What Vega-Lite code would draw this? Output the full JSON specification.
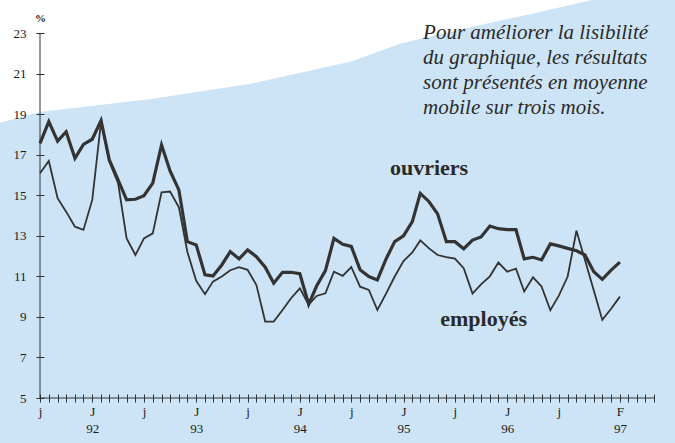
{
  "$schema": "https://vega.github.io/schema/vega-lite/v6.json",
  "width": 614,
  "height": 365,
  "autosize": "none",
  "padding": {"left": 40, "top": 33, "right": 21, "bottom": 45},
  "background": "#cde4f6",
  "config": {"view": {"stroke": null}, "font": "Liberation Serif"},
  "datasets": {
    "bg": [
      {"d": "1990/12/01", "lo": 18.3, "hi": 27},
      {"d": "1991/07/01", "lo": 19.1, "hi": 27},
      {"d": "1992/07/25", "lo": 19.75, "hi": 27},
      {"d": "1993/07/12", "lo": 20.5, "hi": 27},
      {"d": "1994/07/01", "lo": 21.6, "hi": 27},
      {"d": "1994/12/25", "lo": 22.5, "hi": 27},
      {"d": "1995/08/28", "lo": 23.3, "hi": 27},
      {"d": "1996/03/25", "lo": 23.94, "hi": 27},
      {"d": "1996/10/25", "lo": 24.63, "hi": 27},
      {"d": "1997/09/01", "lo": 25.6, "hi": 27}
    ],
    "series": [
      {"d": "1991/07/01", "ouvriers": 17.56, "employes": 16.08},
      {"d": "1991/08/01", "ouvriers": 18.63, "employes": 16.69},
      {"d": "1991/09/01", "ouvriers": 17.67, "employes": 14.85},
      {"d": "1991/10/01", "ouvriers": 18.13, "employes": 14.19},
      {"d": "1991/11/01", "ouvriers": 16.82, "employes": 13.45},
      {"d": "1991/12/01", "ouvriers": 17.51, "employes": 13.29},
      {"d": "1992/01/01", "ouvriers": 17.76, "employes": 14.77},
      {"d": "1992/02/01", "ouvriers": 18.68, "employes": 18.63},
      {"d": "1992/03/01", "ouvriers": 16.74, "employes": 16.66},
      {"d": "1992/04/01", "ouvriers": 15.75, "employes": 15.6},
      {"d": "1992/05/01", "ouvriers": 14.77, "employes": 12.87},
      {"d": "1992/06/01", "ouvriers": 14.8, "employes": 12.05},
      {"d": "1992/07/01", "ouvriers": 14.98, "employes": 12.87},
      {"d": "1992/08/01", "ouvriers": 15.6, "employes": 13.12},
      {"d": "1992/09/01", "ouvriers": 17.48, "employes": 15.14},
      {"d": "1992/10/01", "ouvriers": 16.2, "employes": 15.18},
      {"d": "1992/11/01", "ouvriers": 15.26, "employes": 14.4},
      {"d": "1992/12/01", "ouvriers": 12.71, "employes": 12.2},
      {"d": "1993/01/01", "ouvriers": 12.55, "employes": 10.78},
      {"d": "1993/02/01", "ouvriers": 11.07, "employes": 10.12},
      {"d": "1993/03/01", "ouvriers": 11.02, "employes": 10.74},
      {"d": "1993/04/01", "ouvriers": 11.56, "employes": 10.99},
      {"d": "1993/05/01", "ouvriers": 12.22, "employes": 11.3},
      {"d": "1993/06/01", "ouvriers": 11.86, "employes": 11.45},
      {"d": "1993/07/01", "ouvriers": 12.3, "employes": 11.32},
      {"d": "1993/08/01", "ouvriers": 11.97, "employes": 10.57},
      {"d": "1993/09/01", "ouvriers": 11.45, "employes": 8.77},
      {"d": "1993/10/01", "ouvriers": 10.66, "employes": 8.77},
      {"d": "1993/11/01", "ouvriers": 11.2, "employes": 9.34},
      {"d": "1993/12/01", "ouvriers": 11.2, "employes": 9.92},
      {"d": "1994/01/01", "ouvriers": 11.13, "employes": 10.41},
      {"d": "1994/02/01", "ouvriers": 9.62, "employes": 9.6},
      {"d": "1994/03/01", "ouvriers": 10.52, "employes": 10.03},
      {"d": "1994/04/01", "ouvriers": 11.28, "employes": 10.16},
      {"d": "1994/05/01", "ouvriers": 12.87, "employes": 11.23},
      {"d": "1994/06/01", "ouvriers": 12.58, "employes": 11.02},
      {"d": "1994/07/01", "ouvriers": 12.48, "employes": 11.46},
      {"d": "1994/08/01", "ouvriers": 11.33, "employes": 10.49},
      {"d": "1994/09/01", "ouvriers": 10.99, "employes": 10.33},
      {"d": "1994/10/01", "ouvriers": 10.82, "employes": 9.34},
      {"d": "1994/11/01", "ouvriers": 11.87, "employes": 10.16},
      {"d": "1994/12/01", "ouvriers": 12.71, "employes": 10.99},
      {"d": "1995/01/01", "ouvriers": 13.0, "employes": 11.75},
      {"d": "1995/02/01", "ouvriers": 13.7, "employes": 12.18},
      {"d": "1995/03/01", "ouvriers": 15.09, "employes": 12.77},
      {"d": "1995/04/01", "ouvriers": 14.68, "employes": 12.38},
      {"d": "1995/05/01", "ouvriers": 14.08, "employes": 12.05},
      {"d": "1995/06/01", "ouvriers": 12.71, "employes": 11.95},
      {"d": "1995/07/01", "ouvriers": 12.71, "employes": 11.87},
      {"d": "1995/08/01", "ouvriers": 12.36, "employes": 11.4},
      {"d": "1995/09/01", "ouvriers": 12.79, "employes": 10.15},
      {"d": "1995/10/01", "ouvriers": 12.94, "employes": 10.6},
      {"d": "1995/11/01", "ouvriers": 13.48, "employes": 11.0},
      {"d": "1995/12/01", "ouvriers": 13.35, "employes": 11.68},
      {"d": "1996/01/01", "ouvriers": 13.3, "employes": 11.23},
      {"d": "1996/02/01", "ouvriers": 13.3, "employes": 11.38},
      {"d": "1996/03/01", "ouvriers": 11.86, "employes": 10.25},
      {"d": "1996/04/01", "ouvriers": 11.94, "employes": 10.95},
      {"d": "1996/05/01", "ouvriers": 11.81, "employes": 10.5},
      {"d": "1996/06/01", "ouvriers": 12.6, "employes": 9.33},
      {"d": "1996/07/01", "ouvriers": 12.5, "employes": 10.05},
      {"d": "1996/08/01", "ouvriers": 12.38, "employes": 10.99},
      {"d": "1996/09/01", "ouvriers": 12.26, "employes": 13.25},
      {"d": "1996/10/01", "ouvriers": 12.05, "employes": 11.8},
      {"d": "1996/11/01", "ouvriers": 11.23, "employes": 10.3},
      {"d": "1996/12/01", "ouvriers": 10.85, "employes": 8.85},
      {"d": "1997/01/01", "ouvriers": 11.31, "employes": 9.4},
      {"d": "1997/02/01", "ouvriers": 11.7, "employes": 10.0}
    ],
    "labels": [
      {"d": "1995/04/01", "v": 16.0, "t": "ouvriers"},
      {"d": "1995/10/10", "v": 8.55, "t": "employés"}
    ],
    "note": [
      {"d": "1995/03/11", "v": 22.7, "t": "Pour améliorer la lisibilité"},
      {"d": "1995/03/11", "v": 21.47, "t": "du graphique, les résultats"},
      {"d": "1995/03/11", "v": 20.24, "t": "sont présentés en moyenne"},
      {"d": "1995/03/11", "v": 19.0, "t": "mobile sur trois mois."}
    ],
    "origin": [
      {"d": "1991/07/01", "v": 5}
    ]
  },
  "layer": [
    {
      "data": {"name": "bg"},
      "mark": {"type": "area", "color": "#ffffff", "clip": false, "opacity": 1},
      "encoding": {
        "x": {
          "field": "d", "type": "temporal",
          "scale": {"domain": [{"year": 1991, "month": 7, "date": 1}, {"year": 1997, "month": 6, "date": 1}]},
          "axis": {
            "title": null, "offset": -4, "domain": false, "grid": false, "zindex": 1,
            "tickCount": {"interval": "month", "step": 1},
            "tickSize": 8, "tickColor": "#333333", "tickWidth": 1,
            "labelExpr": "(month(datum.value)==0 && year(datum.value)<1997) ? ['J', timeFormat(datum.value, '%y')] : month(datum.value)==6 ? 'j' : (month(datum.value)==1 && year(datum.value)==1997) ? ['F','97'] : ''",
            "labelOverlap": false, "labelFlush": false, "labelBound": false,
            "labelFont": "Liberation Serif", "labelFontSize": 13, "labelColor": "#1a1a1a",
            "labelPadding": 3, "labelLineHeight": 17, "labelAlign": "center"
          }
        },
        "y": {
          "field": "lo", "type": "quantitative",
          "scale": {"domain": [5, 23], "nice": false, "zero": false},
          "axis": {
            "title": "%", "titleAngle": 0, "titleX": -4, "titleY": -15, "titleAlign": "center", "titleBaseline": "middle",
            "titleFont": "Liberation Serif", "titleFontSize": 11, "titleFontWeight": "bold", "titleColor": "#222222",
            "offset": -4, "domain": false, "grid": false, "zindex": 1,
            "values": [5, 7, 9, 11, 13, 15, 17, 19, 21, 23],
            "tickSize": 8, "tickColor": "#333333", "tickWidth": 1,
            "labelFont": "Liberation Serif", "labelFontSize": 13, "labelColor": "#1a1a1a", "labelPadding": 10
          }
        },
        "y2": {"field": "hi"}
      }
    },
    {
      "data": {"name": "series"},
      "mark": {"type": "line", "color": "#333333", "strokeWidth": 1.8, "strokeJoin": "miter"},
      "encoding": {
        "x": {"field": "d", "type": "temporal"},
        "y": {"field": "employes", "type": "quantitative"}
      }
    },
    {
      "data": {"name": "series"},
      "mark": {"type": "line", "color": "#333333", "strokeWidth": 3.2, "strokeJoin": "miter"},
      "encoding": {
        "x": {"field": "d", "type": "temporal"},
        "y": {"field": "ouvriers", "type": "quantitative"}
      }
    },
    {
      "data": {"name": "origin"},
      "mark": {"type": "rule", "color": "#333333", "strokeWidth": 1},
      "encoding": {
        "x": {"field": "d", "type": "temporal"}
      }
    },
    {
      "data": {"name": "origin"},
      "mark": {"type": "rule", "color": "#333333", "strokeWidth": 1},
      "encoding": {
        "y": {"field": "v", "type": "quantitative"}
      }
    },
    {
      "data": {"name": "labels"},
      "mark": {"type": "text", "font": "Liberation Serif", "fontWeight": "bold", "fontSize": 22, "color": "#2a2a2a", "align": "center", "baseline": "alphabetic"},
      "encoding": {
        "x": {"field": "d", "type": "temporal"},
        "y": {"field": "v", "type": "quantitative"},
        "text": {"field": "t"}
      }
    },
    {
      "data": {"name": "note"},
      "mark": {"type": "text", "font": "Liberation Serif", "fontStyle": "italic", "fontSize": 21, "color": "#2a2a2a", "align": "left", "baseline": "alphabetic"},
      "encoding": {
        "x": {"field": "d", "type": "temporal"},
        "y": {"field": "v", "type": "quantitative"},
        "text": {"field": "t"}
      }
    }
  ]
}
